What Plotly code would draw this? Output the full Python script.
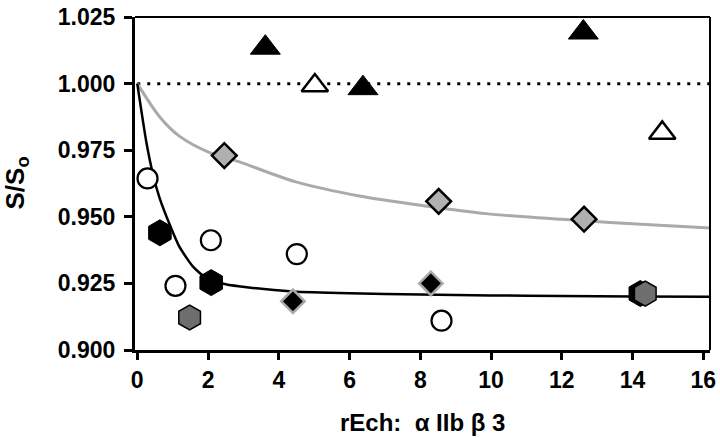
import plotly.graph_objects as go

# ---- data ----
black_hex_x = [0.64, 2.09, 14.22]
black_hex_y = [0.9440, 0.9253, 0.9212]
gray_hex_x = [1.48, 14.36]
gray_hex_y = [0.9122, 0.9212]
open_circle_x = [0.29, 1.08, 2.08, 4.51, 8.60]
open_circle_y = [0.9644, 0.9241, 0.9412, 0.9360, 0.9110]
black_diamond_x = [4.40, 8.30]
black_diamond_y = [0.9183, 0.9250]
gray_diamond_x = [2.46, 8.52, 12.63]
gray_diamond_y = [0.9730, 0.9558, 0.9491]
black_tri_x = [3.62, 6.38, 12.61]
black_tri_y = [1.0135, 0.9983, 1.0192]
open_tri_x = [5.02, 14.84]
open_tri_y = [0.9993, 0.9815]

black_fit_x = [0, 0.26, 0.45, 0.63, 0.91, 1.19, 1.57, 1.94, 2.50, 3.15, 4.4, 6, 8, 10, 12, 14, 16.19]
black_fit_y = [1.000, 0.9778, 0.9656, 0.9571, 0.9473, 0.9388, 0.9314, 0.9271, 0.9247, 0.9235,
               0.9220, 0.9213, 0.9208, 0.9205, 0.9203, 0.9201, 0.9200]
gray_fit_x = [0, 0.63, 1.19, 2.03, 2.87, 4.46, 6.32, 8.19, 9.85, 12.62, 14.5, 16.19]
gray_fit_y = [1.000, 0.9876, 0.9803, 0.9742, 0.9707, 0.9632, 0.9577, 0.9540, 0.9512, 0.9485, 0.9470, 0.9458]
ref_x = [0, 16.19]
ref_y = [1.0, 1.0]

x_ticks = [0, 2, 4, 6, 8, 10, 12, 14, 16]
y_ticks = [0.900, 0.925, 0.950, 0.975, 1.000, 1.025]
y_tick_labels = ["0.900", "0.925", "0.950", "0.975", "1.000", "1.025"]

FONT = "Liberation Sans, Arial, sans-serif"

fig = go.Figure()

fig.add_trace(go.Scatter(x=ref_x, y=ref_y, mode="lines",
                         line=dict(color="black", width=3, dash="3px,7px")))
fig.add_trace(go.Scatter(x=gray_fit_x, y=gray_fit_y, mode="lines",
                         line=dict(color="#aaaaaa", width=3, shape="spline", smoothing=0.8)))
fig.add_trace(go.Scatter(x=black_fit_x, y=black_fit_y, mode="lines",
                         line=dict(color="black", width=2.5, shape="spline", smoothing=0.6)))

fig.add_trace(go.Scatter(x=open_circle_x, y=open_circle_y, mode="markers",
                         marker=dict(symbol="circle", size=20, color="white",
                                     line=dict(color="black", width=2.2))))
fig.add_trace(go.Scatter(x=black_hex_x, y=black_hex_y, mode="markers",
                         marker=dict(symbol="hexagon", size=26, color="black",
                                     line=dict(color="black", width=1))))
fig.add_trace(go.Scatter(x=gray_hex_x, y=gray_hex_y, mode="markers",
                         marker=dict(symbol="hexagon", size=25, color="#6e6e6e",
                                     line=dict(color="black", width=1.5))))
fig.add_trace(go.Scatter(x=black_diamond_x, y=black_diamond_y, mode="markers",
                         marker=dict(symbol="diamond", size=18, color="black",
                                     line=dict(color="#aaaaaa", width=2.5))))
fig.add_trace(go.Scatter(x=gray_diamond_x, y=gray_diamond_y, mode="markers",
                         marker=dict(symbol="diamond", size=19, color="#b0b0b0",
                                     line=dict(color="black", width=2.5))))
fig.add_trace(go.Scatter(x=black_tri_x, y=black_tri_y, mode="markers",
                         marker=dict(symbol="triangle-up", size=26, color="black",
                                     line=dict(color="black", width=1))))
fig.add_trace(go.Scatter(x=open_tri_x, y=open_tri_y, mode="markers",
                         marker=dict(symbol="triangle-up", size=23, color="white",
                                     line=dict(color="black", width=2.5))))

fig.update_layout(
    width=720, height=438,
    margin=dict(l=135, r=4, t=8, b=88),
    paper_bgcolor="white", plot_bgcolor="white",
    showlegend=False,
    font=dict(family=FONT, color="black"),
    xaxis=dict(range=[-0.064, 16.19], tickvals=x_ticks, ticks="outside", ticklen=7,
               tickwidth=2.5, tickcolor="black", showline=True, linecolor="black",
               linewidth=3, showgrid=False, zeroline=False, ticklabeloverflow="allow",
               tickfont=dict(family=FONT, size=23, color="black", weight="bold")),
    yaxis=dict(range=[0.9, 1.02502], tickvals=y_ticks, ticktext=y_tick_labels,
               ticks="outside", ticklen=8, tickwidth=2.5, tickcolor="black",
               showline=True, linecolor="black", linewidth=3, showgrid=False,
               zeroline=False, ticklabelstandoff=4, ticklabeloverflow="allow",
               tickfont=dict(family=FONT, size=23, color="black", weight="bold")),
    shapes=[
        dict(type="line", xref="paper", yref="paper", x0=0, x1=1, y0=1, y1=1,
             line=dict(color="black", width=2)),
        dict(type="line", xref="paper", yref="paper", x0=1, x1=1, y0=0, y1=1,
             line=dict(color="black", width=2)),
    ],
    annotations=[
        dict(text="<b>S/S<sub>o</sub></b>", xref="paper", yref="paper", x=0, y=0.5,
             xanchor="center", yanchor="middle", xshift=-119, textangle=-90,
             showarrow=False, font=dict(family=FONT, size=26, color="black")),
        dict(text="<b>rEch:  α IIb β 3</b>", xref="paper", yref="paper",
             x=0.5, y=0, xanchor="center", yanchor="middle", yshift=-72,
             showarrow=False, font=dict(family=FONT, size=24, color="black")),
    ],
)

fig.write_html("out.html", config={"displayModeBar": False},
               post_script="document.body.style.margin='0px';document.body.style.overflow='hidden';")
